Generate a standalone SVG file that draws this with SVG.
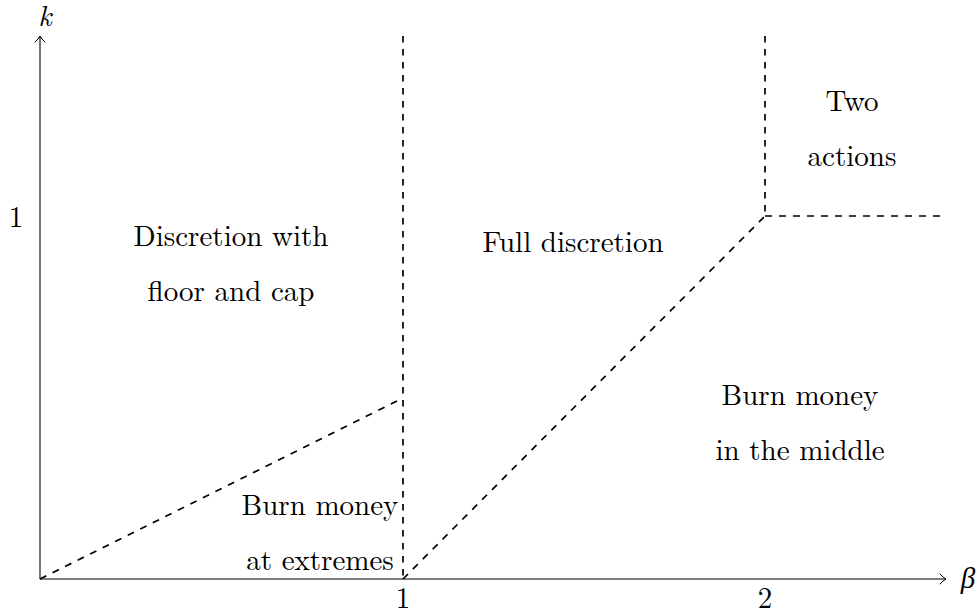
<svg xmlns="http://www.w3.org/2000/svg" width="979" height="615" viewBox="0 0 979 615">
<style>
.ax{stroke:#000;stroke-width:1.1;fill:none}
.d{stroke:#000;stroke-width:1.7;fill:none;stroke-dasharray:7 7}
.dv{stroke:#000;stroke-width:1.7;fill:none;stroke-dasharray:6.5 6.5}
.ah{stroke:#000;stroke-width:1;fill:none;stroke-linecap:round}
text{font-family:"Latin Modern Roman","Liberation Serif","DejaVu Serif",serif;font-size:29px;fill:#000;text-anchor:middle}
.it{font-style:italic}
</style>
<rect width="979" height="615" fill="#fff"/>
<g id="axes">
<line class="ax" x1="40" y1="579" x2="946" y2="579"/>
<line class="ax" x1="40" y1="579" x2="40" y2="36"/>
<path class="ah" d="M940,574 Q943,577.5 946,579 Q943,580.5 940,584"/>
<path class="ah" d="M35,42 Q38.5,39 40,36 Q41.5,39 45,42"/>
<text class="it" x="45" y="26">k</text>
<text class="it" x="968" y="588">β</text>
<text x="16" y="227">1</text>
<text x="403" y="608">1</text>
<text x="765" y="608">2</text>
</g>
<g id="connectors">
<line class="dv" x1="403" y1="36" x2="403" y2="579"/>
<line class="d" x1="40" y1="579" x2="403" y2="398"/>
<line class="d" x1="403" y1="579" x2="765" y2="216"/>
<line class="dv" x1="765" y1="36" x2="765" y2="216"/>
<line class="d" x1="765" y1="216" x2="946" y2="216"/>
</g>
<g id="discretion-floor-cap">
<text x="231" y="246">Discretion with</text>
<text x="231" y="301">floor and cap</text>
</g>
<g id="full-discretion">
<text x="573" y="252">Full discretion</text>
</g>
<g id="two-actions">
<text x="852" y="111">Two</text>
<text x="852" y="166">actions</text>
</g>
<g id="burn-middle">
<text x="800" y="405">Burn money</text>
<text x="800" y="460">in the middle</text>
</g>
<g id="burn-extremes">
<text x="320" y="515">Burn money</text>
<text x="320" y="570">at extremes</text>
</g>
</svg>
